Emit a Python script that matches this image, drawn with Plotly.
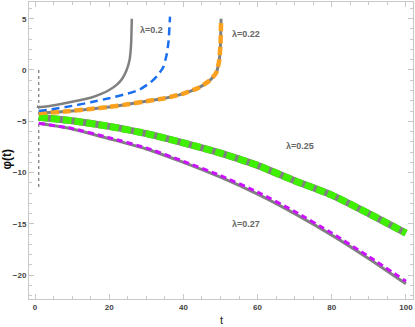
import plotly.graph_objects as go

# lambda = 0.2, solid gray
t_a = [0.5, 1, 4, 8, 12, 15, 18, 20, 22, 23.5, 24.7, 25.5, 25.9, 26.1]
phi_a = [-3.55, -3.6, -3.5, -3.25, -2.95, -2.7, -2.3, -1.95, -1.45, -0.85, 0.0, 1.0, 2.5, 5.0]

# lambda = 0.2, blue dashed
t_b = [1, 5, 10, 15, 20, 25, 28, 31, 33, 34.6, 35.5, 36.0, 36.4]
phi_b = [-4.0, -3.8, -3.5, -3.15, -2.75, -2.3, -1.95, -1.25, -0.55, 0.3, 1.5, 2.8, 5.2]

# lambda = 0.22, gray solid + orange dashed
t_c = [1, 8, 15, 20, 25, 30, 35, 40, 44, 47, 48.8, 49.6, 50.0, 50.15]
phi_c_gray = [-4.2, -4.05, -3.8, -3.6, -3.35, -3.05, -2.75, -2.3, -1.75, -1.05, -0.3, 0.8, 2.5, 5.0]
phi_c_orange = [-4.2, -4.05, -3.8, -3.6, -3.35, -3.05, -2.75, -2.3, -1.75, -1.05, -0.3, 0.8, 2.5, 4.6]

# lambda = 0.25 and 0.27
t_d = [1, 10, 20, 30, 40, 50, 60, 70, 80, 90, 100]
phi_d = [-4.6, -4.95, -5.5, -6.2, -7.1, -8.1, -9.3, -10.8, -12.2, -14.0, -15.9]
phi_e_dash = [-5.2, -5.7, -6.6, -7.6, -8.9, -10.3, -11.9, -13.8, -15.9, -18.2, -20.6]
phi_e_gray = [-5.2, -5.75, -6.7, -7.7, -9.0, -10.45, -12.1, -14.0, -16.1, -18.4, -20.85]

# vertical dotted marker
t_v = [1, 1]
phi_v = [0, -11.6]

labels = ["λ=0.2", "λ=0.22", "λ=0.25", "λ=0.27"]
label_t = [31.5, 57.0, 71.5, 57.0]
label_phi = [3.9, 3.5, -7.4, -15.0]

gray = "#808080"
fig = go.Figure()

def courbe(x, y, color, width, dash="solid"):
    fig.add_trace(go.Scatter(x=x, y=y, mode="lines",
                             line=dict(color=color, width=width, dash=dash, shape="spline", smoothing=0.5),
                             showlegend=False, hoverinfo="skip"))

courbe(t_v, phi_v, gray, 1.3, "dot")
courbe(t_d, phi_d, gray, 7)
courbe(t_d, phi_d, "#3ff000", 7, "9px,3px")
courbe(t_d, phi_e_gray, gray, 3)
courbe(t_d, phi_e_dash, "#cc11ff", 3, "6px,4px")
courbe(t_c, phi_c_gray, gray, 3)
courbe(t_c, phi_c_orange, "#fba11e", 4.5, "8px,4px")
courbe(t_b, phi_b, "#1a6ff0", 2.5, "8px,5px")
courbe(t_a, phi_a, gray, 2.5)

for txt, x, y in zip(labels, label_t, label_phi):
    fig.add_annotation(x=x, y=y, text="<b>" + txt + "</b>", showarrow=False,
                       font=dict(family="Liberation Sans", size=9, color="#666666"))

fig.add_annotation(xref="paper", yref="paper", x=-0.057, y=0.47, text="<b>φ(t)</b>", textangle=-90,
                   showarrow=False, xanchor="center", font=dict(family="Liberation Sans", size=12, color="#111111"))
fig.add_annotation(xref="paper", yref="paper", x=0.5, y=-0.07, text="t", showarrow=False, yanchor="middle",
                   font=dict(family="Liberation Sans", size=11, color="#222222"))

axe = dict(showgrid=False, zeroline=False, showline=True, linecolor="#c8c8c8", linewidth=1,
           mirror="allticks", ticks="inside", ticklen=5, tickcolor="#c8c8c8", automargin=False,
           tickfont=dict(family="Liberation Sans", size=8, color="#444444", weight="bold"))
fig.update_layout(
    width=415, height=327,
    margin=dict(l=29, r=2, t=2, b=28, autoexpand=False),
    plot_bgcolor="white", paper_bgcolor="white",
    xaxis=dict(range=[-1.62, 101.9], dtick=20, tick0=0,
               minor=dict(dtick=5, ticks="inside", ticklen=3, tickcolor="#c8c8c8"), **axe),
    yaxis=dict(range=[-22.33, 6.63], dtick=5, tick0=0,
               minor=dict(dtick=1, ticks="inside", ticklen=3, tickcolor="#c8c8c8"), **axe),
)
# la page HTML a une marge de 8px par défaut
fig.write_html("out.html", config={"displayModeBar": False},
               post_script="document.body.style.margin='0';")
